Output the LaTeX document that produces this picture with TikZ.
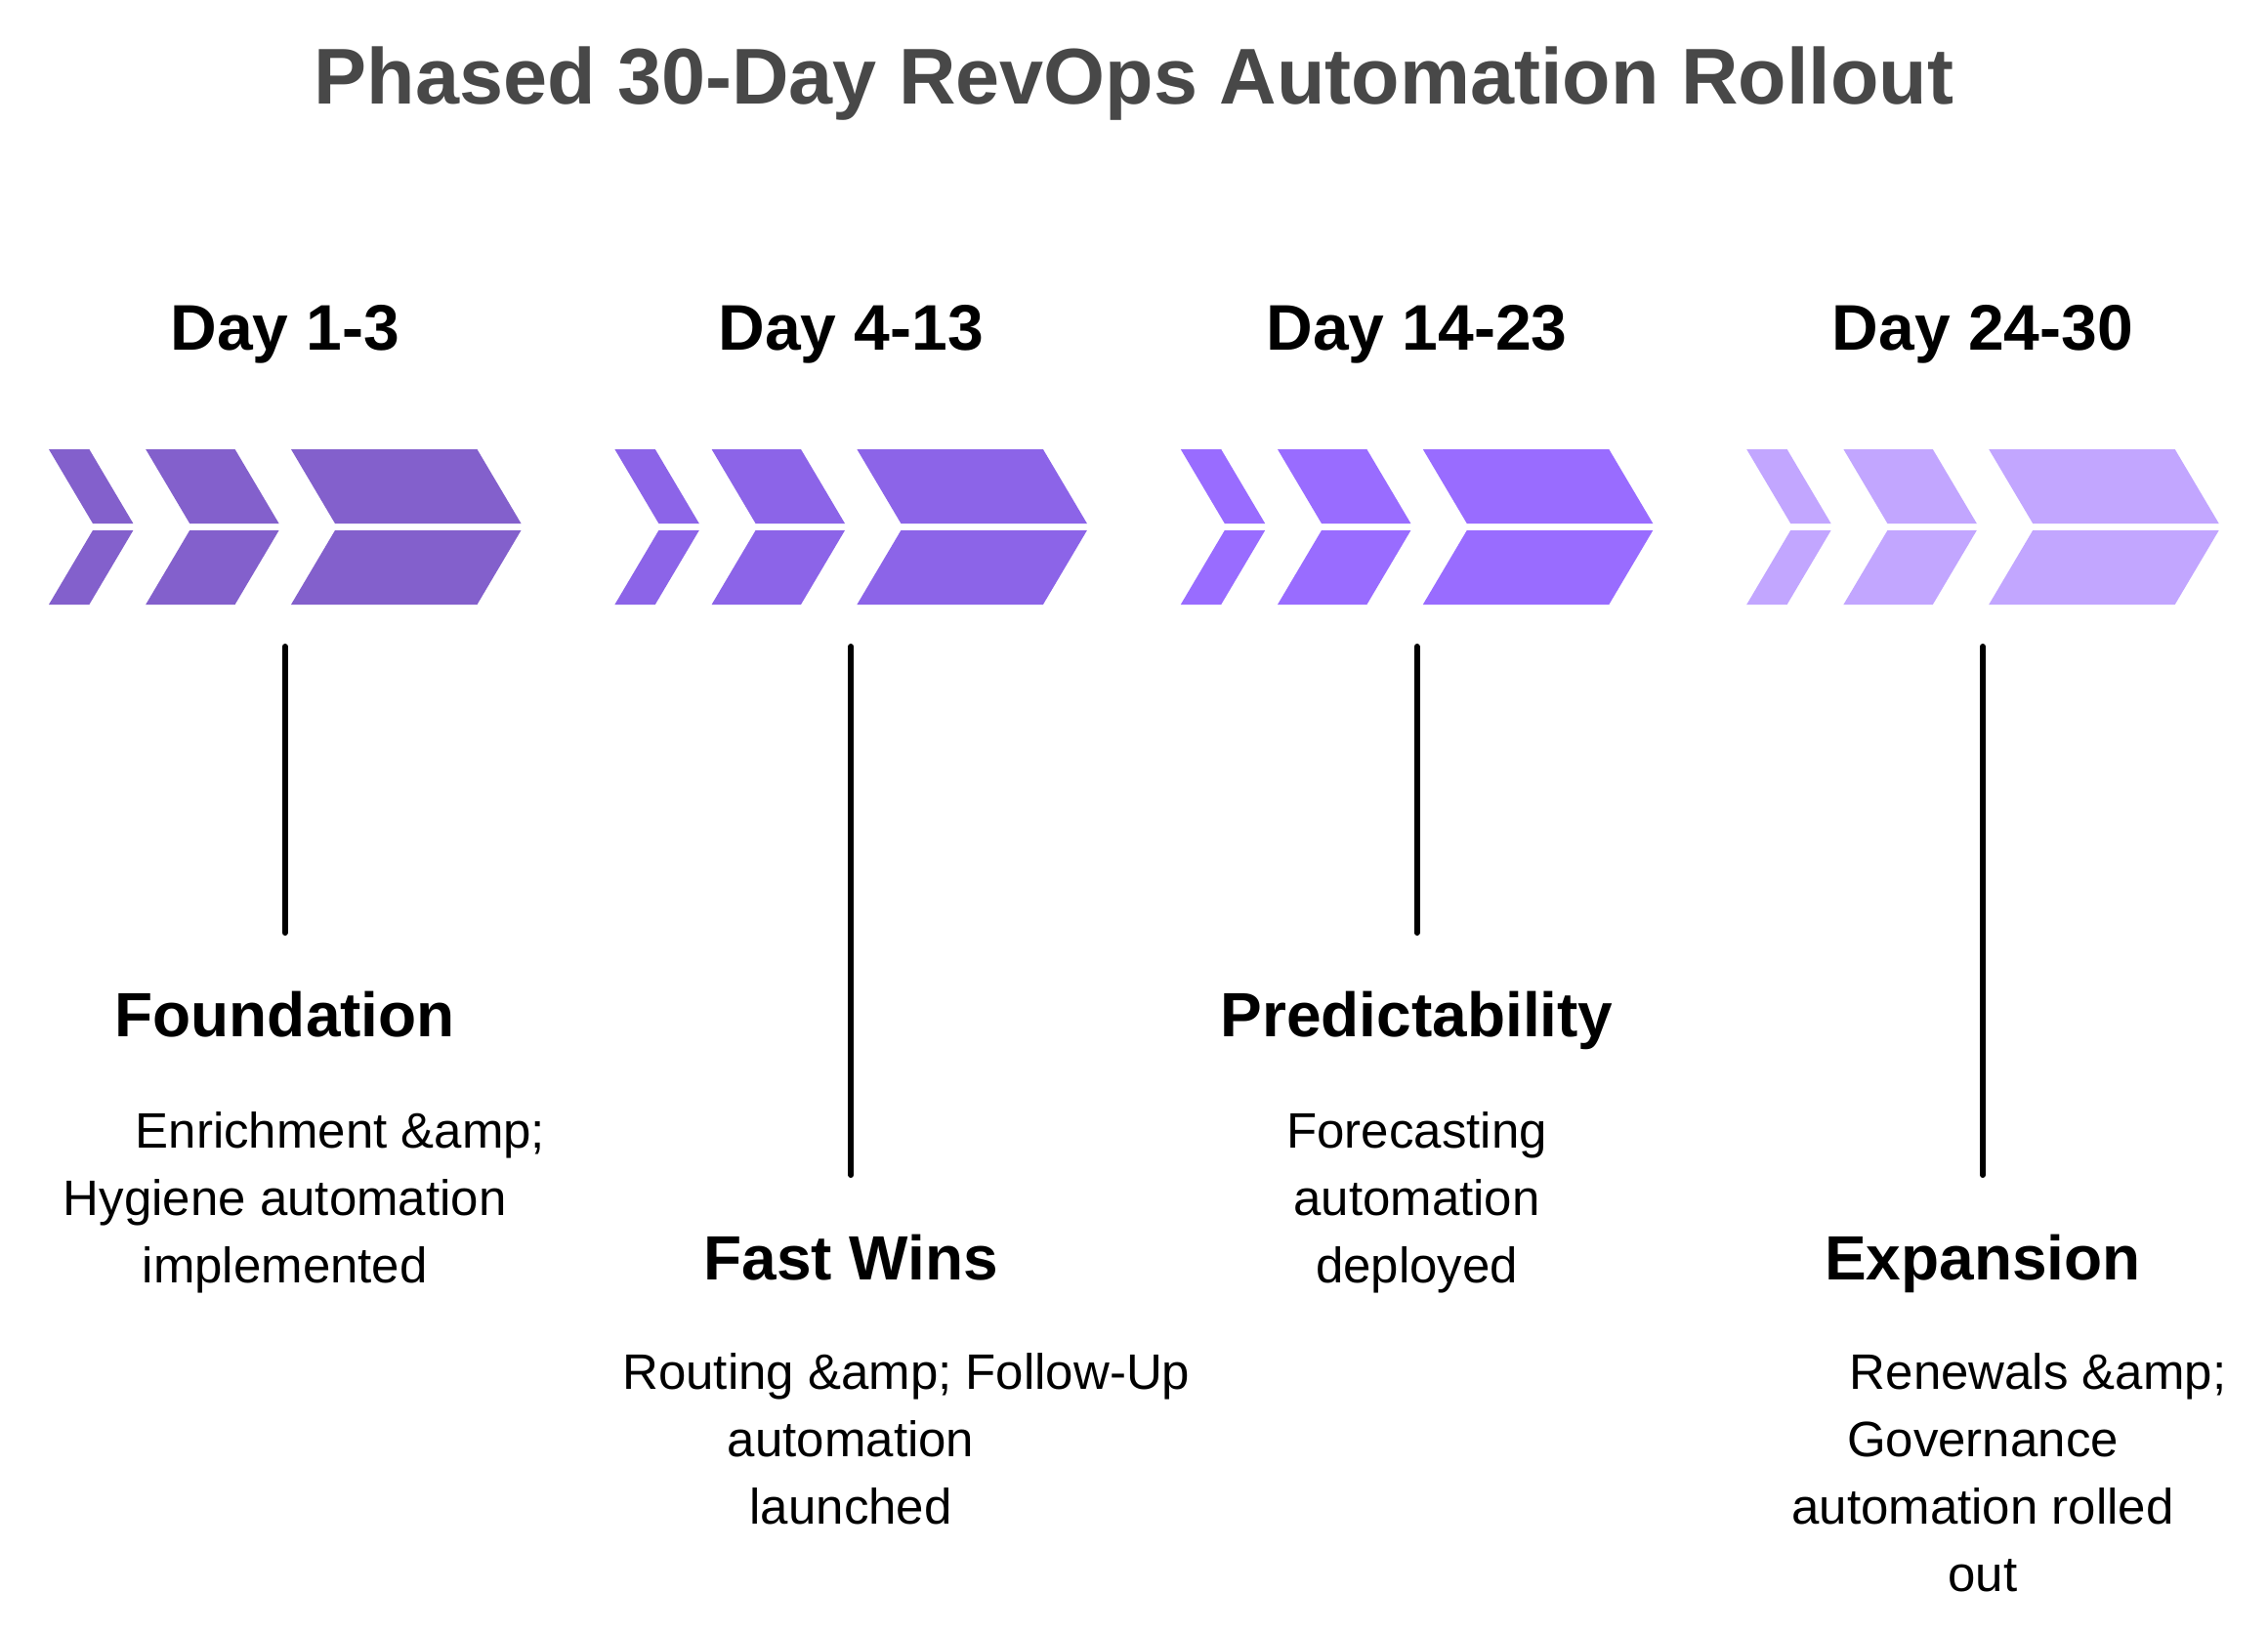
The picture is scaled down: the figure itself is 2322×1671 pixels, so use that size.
\documentclass[tikz,border=0pt]{standalone}
\usepackage{fontspec}
\setmainfont{Liberation Sans}

\definecolor{titlegray}{HTML}{484848}
\definecolor{phaseA}{HTML}{8360CC}
\definecolor{phaseB}{HTML}{8C64E8}
\definecolor{phaseC}{HTML}{996CFF}
\definecolor{phaseD}{HTML}{C2A6FF}

% text with a raw "&amp;" that keeps the centre of the plain text
\newcommand{\ampjoin}[2]{\rlap{#1\&amp;#2}\phantom{#1\&#2}}

\begin{document}
\begin{tikzpicture}[x=0.5pt,y=-0.5pt,
    daylabel/.style={anchor=base,font=\fontsize{33}{40}\selectfont\bfseries},
    phasehead/.style={anchor=base,font=\fontsize{32}{38}\selectfont\bfseries},
    phasetext/.style={anchor=base,align=center,font=\fontsize{25.5}{34.5}\selectfont},
    stem/.style={line width=3pt,line cap=round}]

    % keret
    \fill[white] (0,0) rectangle (2322,1671);

    % cim
    \node[anchor=base,text=titlegray,font=\fontsize{40.5}{48}\selectfont\bfseries]
        (title) at (1161,106) {Phased 30-Day RevOps Automation Rollout};

    % nyilak
    \foreach \x/\c in {50/phaseA,629.4/phaseB,1208.8/phaseC,1788.2/phaseD} {
        \foreach \l/\w in {0/41.4,99.2/91.4,248/190.5} {
            \fill[\c] (\x+\l,460) -- ++(\w,0) -- ++(45,76) -- ++(-\w,0) -- cycle;
            \fill[\c] (\x+\l+45,543) -- ++(\w,0) -- ++(-45,76) -- ++(-\w,0) -- cycle;
        }
    }

    % napok
    \node[daylabel] (day1) at (291.75,358) {Day 1-3};
    \node[daylabel] (day2) at (871.15,358) {Day 4-13};
    \node[daylabel] (day3) at (1450.55,358) {Day 14-23};
    \node[daylabel] (day4) at (2029.95,358) {Day 24-30};

    % vonalak
    \coordinate (top1) at (291.75,662);
    \coordinate (top2) at (871.15,662);
    \coordinate (top3) at (1450.55,662);
    \coordinate (top4) at (2029.95,662);
    \coordinate (end1) at (291.75,955);
    \coordinate (end2) at (871.15,1203);
    \coordinate (end3) at (1450.55,955);
    \coordinate (end4) at (2029.95,1203);
    \draw[stem] (top1) -- (end1);
    \draw[stem] (top2) -- (end2);
    \draw[stem] (top3) -- (end3);
    \draw[stem] (top4) -- (end4);

    % fazisok (base = utolso sor alapvonala)
    \node[phasehead] (found) at (291.75,1061) {Foundation};
    \node[phasetext] (foundtxt) at (291.75,1313)
        {\ampjoin{Enrichment }{}\\Hygiene automation\\implemented};

    \node[phasehead] (fast) at (871.15,1310) {Fast Wins};
    \node[phasetext] (fasttxt) at (871.15,1560)
        {\ampjoin{Routing }{ Follow-Up}\\automation\\launched};

    \node[phasehead] (pred) at (1450.55,1061) {Predictability};
    \node[phasetext] (predtxt) at (1450.55,1313)
        {Forecasting\\automation\\deployed};

    \node[phasehead] (expa) at (2029.95,1310) {Expansion};
    \node[phasetext] (expatxt) at (2029.95,1629)
        {\ampjoin{Renewals }{}\\Governance\\automation rolled\\out};

\end{tikzpicture}
\end{document}
